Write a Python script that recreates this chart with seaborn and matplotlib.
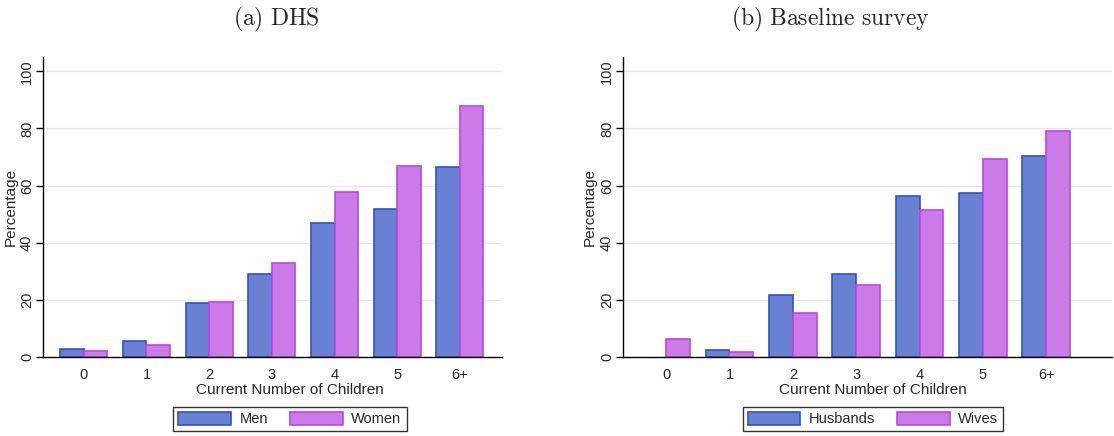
import numpy as np
import pandas as pd
import matplotlib
matplotlib.use("Agg")
import matplotlib.pyplot as plt
import seaborn as sns

# Values
children = ["0", "1", "2", "3", "4", "5", "6+"]

dhs_men = [2.8, 5.7, 18.9, 29.0, 46.9, 51.7, 66.4]
dhs_women = [2.1, 4.2, 19.2, 33.1, 57.7, 66.7, 87.8]

base_husbands = [np.nan, 2.4, 21.7, 29.0, 56.4, 57.3, 70.3]
base_wives = [6.3, 1.7, 15.4, 25.2, 51.4, 69.3, 79.1]

fill_colors = ["#6881d3", "#cc7ae8"]
edge_colors = ["#3352c2", "#b54ade"]

sns.set_theme(style="white")
plt.rcParams["font.family"] = ["Liberation Sans", "DejaVu Sans"]
plt.rcParams["mathtext.fontset"] = "cm"


def make_frame(a, b, names):
    return pd.DataFrame({
        "children": children * 2,
        "value": list(a) + list(b),
        "group": [names[0]] * len(children) + [names[1]] * len(children),
    })


def draw_panel(ax, df, names, xlim, legend_x, ylabel_x):
    sns.barplot(data=df, x="children", y="value", hue="group", hue_order=names,
                order=children, palette=fill_colors, width=0.75, ax=ax,
                linewidth=1.2, saturation=1)
    for cont, ec in zip(ax.containers, edge_colors):
        for p in cont:
            p.set_edgecolor(ec)
    ax.set_ylim(0, 105)
    ax.set_xlim(*xlim)
    yt = [0, 20, 40, 60, 80, 100]
    ax.set_yticks(yt, [str(v) for v in yt], rotation=90, va="center")
    ax.yaxis.grid(True, color="#e6e6e6", linewidth=1)
    ax.set_axisbelow(True)
    ax.tick_params(axis="y", left=True, length=5, width=1, color="black",
                   labelsize=10.5, pad=1.5)
    ax.tick_params(axis="x", bottom=False, labelsize=10.5, pad=1.5)
    sns.despine(ax=ax)
    ax.spines["left"].set_color("black")
    ax.spines["bottom"].set_color("black")
    ax.spines["left"].set_linewidth(1)
    ax.spines["bottom"].set_linewidth(1)
    ax.set_xlabel("Current Number of Children", fontsize=11)
    ax.xaxis.set_label_coords(legend_x, -0.085)
    ax.set_ylabel("Percentage", fontsize=11)
    ax.yaxis.set_label_coords(ylabel_x, 0.5)
    leg = ax.legend(loc="center", bbox_to_anchor=(legend_x, -0.205), ncol=2,
                    frameon=True, fancybox=False, edgecolor="black",
                    handlelength=3.6, handleheight=1.0, columnspacing=1.5,
                    handletextpad=0.6, fontsize=10.5, borderpad=0.35)
    leg.get_frame().set_linewidth(1)
    for h, ec in zip(leg.legend_handles, edge_colors):
        h.set_edgecolor(ec)


fig = plt.figure(figsize=(11.14, 4.36), dpi=100)
ax1 = fig.add_axes([0.0386, 0.1805, 0.412, 0.689])
ax2 = fig.add_axes([0.5593, 0.1805, 0.439, 0.689])

draw_panel(ax1, make_frame(dhs_men, dhs_women, ["Men", "Women"]),
           ["Men", "Women"], (-0.65, 6.67), 0.538, -0.056)
draw_panel(ax2, make_frame(base_husbands, base_wives, ["Husbands", "Wives"]),
           ["Husbands", "Wives"], (-0.68, 7.04), 0.511, -0.053)

fig.text(276 / 1114, 1 - 19 / 436, r"$\mathrm{(a)\ DHS}$", ha="center", va="center",
         fontsize=17)
fig.text(830 / 1114, 1 - 19 / 436, r"$\mathrm{(b)\ Baseline\ survey}$", ha="center",
         va="center", fontsize=17)

fig.savefig("out.png", dpi=100, facecolor="white")
